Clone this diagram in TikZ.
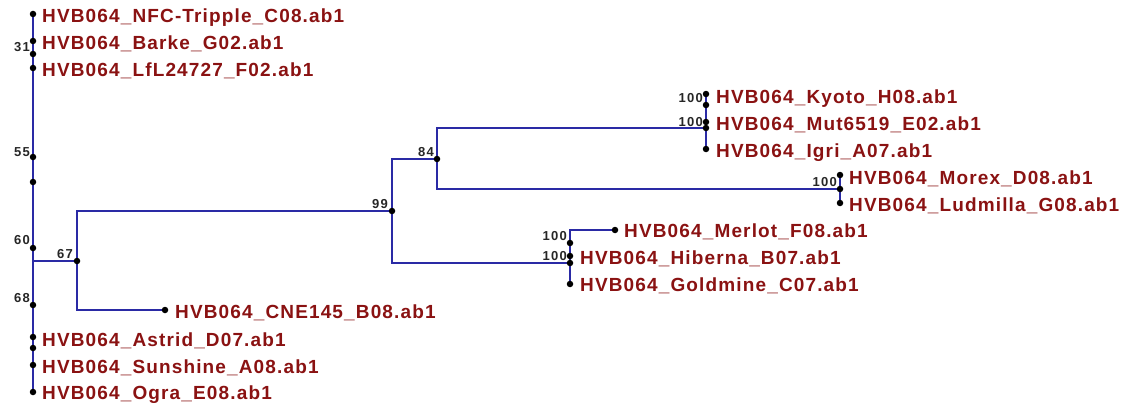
\documentclass[tikz,border=0pt]{standalone}
\usepackage{fontspec}
\newfontfamily\leaffont{Liberation Sans}[LetterSpace=6]
\newfontfamily\bootfont{Liberation Sans}[LetterSpace=10]
\definecolor{leafred}{RGB}{138,18,18}
\definecolor{branchblue}{RGB}{42,42,165}

\begin{document}
\begin{tikzpicture}[x=1pt,y=-1pt,
  branch/.style={draw=branchblue,line width=1.4pt},
  dot/.style={circle,fill=black,inner sep=0pt,minimum size=6.5pt},
  leaf/.style={anchor=base west,inner sep=0pt,text=leafred,
    font=\leaffont\bfseries\fontsize{19}{19}\selectfont},
  boot/.style={anchor=east,inner sep=0pt,text=black!85,
    font=\bootfont\bfseries\fontsize{13}{13}\selectfont}
]
\useasboundingbox (0,0) rectangle (1135,404);

% ---- tips and internal nodes ----
% outgroup column
\coordinate (nfc) at (33,14);
\coordinate (barke) at (33,41);
\coordinate (n31) at (33,54);
\coordinate (lfl) at (33,68);
\coordinate (n55) at (33,157);
\coordinate (n55b) at (33,182);
\coordinate (n60) at (33,248);
\coordinate (root) at (33,261);
\coordinate (n68) at (33,305);
\coordinate (astrid) at (33,337);
\coordinate (astridb) at (33,348);
\coordinate (sunshine) at (33,365);
\coordinate (ogra) at (33,392);
% ingroup
\coordinate (n67) at (77,261);
\coordinate (cne) at (165,310);
\coordinate (n99) at (392,211);
\coordinate (n84) at (437,159);
% Kyoto clade
\coordinate (kyoto) at (706,94);
\coordinate (kA) at (706,105);
\coordinate (mut) at (706,122);
\coordinate (kB) at (706,128);
\coordinate (igri) at (706,149);
% Morex clade
\coordinate (morex) at (840,175);
\coordinate (mB) at (840,189);
\coordinate (ludmilla) at (840,203);
% Merlot clade
\coordinate (merlot) at (615,230);
\coordinate (hcorner) at (570,230);
\coordinate (hA) at (570,243);
\coordinate (hiberna) at (570,256);
\coordinate (hB) at (570,263);
\coordinate (goldmine) at (570,284);

% ---- branches ----
\draw[branch] (nfc) -- (ogra);
\draw[branch] (root) -- (n67);
\draw[branch] (n67) |- (n99);
\draw[branch] (n67) |- (cne);
\draw[branch] (n99) |- (n84);
\draw[branch] (n99) |- (hB);
\draw[branch] (n84) |- (kB);
\draw[branch] (n84) |- (mB);
\draw[branch] (kyoto) -- (igri);
\draw[branch] (morex) -- (ludmilla);
\draw[branch] (merlot) -- (hcorner) -- (goldmine);

% ---- dots ----
\foreach \p in {nfc,barke,n31,lfl,n55,n55b,n60,n68,astrid,astridb,sunshine,ogra,
  n67,cne,n99,n84,kyoto,kA,mut,kB,igri,morex,mB,ludmilla,merlot,hA,hiberna,hB,goldmine}
  \node[dot] (d-\p) at (\p) {};

% ---- tip labels ----
\node[leaf] (t-nfc) at (42,23) {HVB064\_NFC-Tripple\_C08.ab1};
\node[leaf] (t-barke) at (42,50) {HVB064\_Barke\_G02.ab1};
\node[leaf] (t-lfl) at (42,77) {HVB064\_LfL24727\_F02.ab1};
\node[leaf] (t-kyoto) at (716,103) {HVB064\_Kyoto\_H08.ab1};
\node[leaf] (t-mut) at (716,130) {HVB064\_Mut6519\_E02.ab1};
\node[leaf] (t-igri) at (716,157) {HVB064\_Igri\_A07.ab1};
\node[leaf] (t-morex) at (849,184) {HVB064\_Morex\_D08.ab1};
\node[leaf] (t-ludmilla) at (849,211) {HVB064\_Ludmilla\_G08.ab1};
\node[leaf] (t-merlot) at (624,237) {HVB064\_Merlot\_F08.ab1};
\node[leaf] (t-hiberna) at (580,264) {HVB064\_Hiberna\_B07.ab1};
\node[leaf] (t-goldmine) at (580,291) {HVB064\_Goldmine\_C07.ab1};
\node[leaf] (t-cne) at (175,318) {HVB064\_CNE145\_B08.ab1};
\node[leaf] (t-astrid) at (42,346) {HVB064\_Astrid\_D07.ab1};
\node[leaf] (t-sunshine) at (42,373) {HVB064\_Sunshine\_A08.ab1};
\node[leaf] (t-ogra) at (42,399) {HVB064\_Ogra\_E08.ab1};

% ---- bootstrap values ----
\node[boot] (b31) at (30,47) {31};
\node[boot] (b55) at (30,152) {55};
\node[boot] (b60) at (30,240) {60};
\node[boot] (b68) at (30,298) {68};
\node[boot] (b67) at (73,254) {67};
\node[boot] (b99) at (388,204) {99};
\node[boot] (b84) at (434,152) {84};
\node[boot] (bkA) at (703,98) {100};
\node[boot] (bkB) at (703,122) {100};
\node[boot] (bmB) at (837,182) {100};
\node[boot] (bhA) at (567,236) {100};
\node[boot] (bhB) at (567,256) {100};
\end{tikzpicture}
\end{document}
